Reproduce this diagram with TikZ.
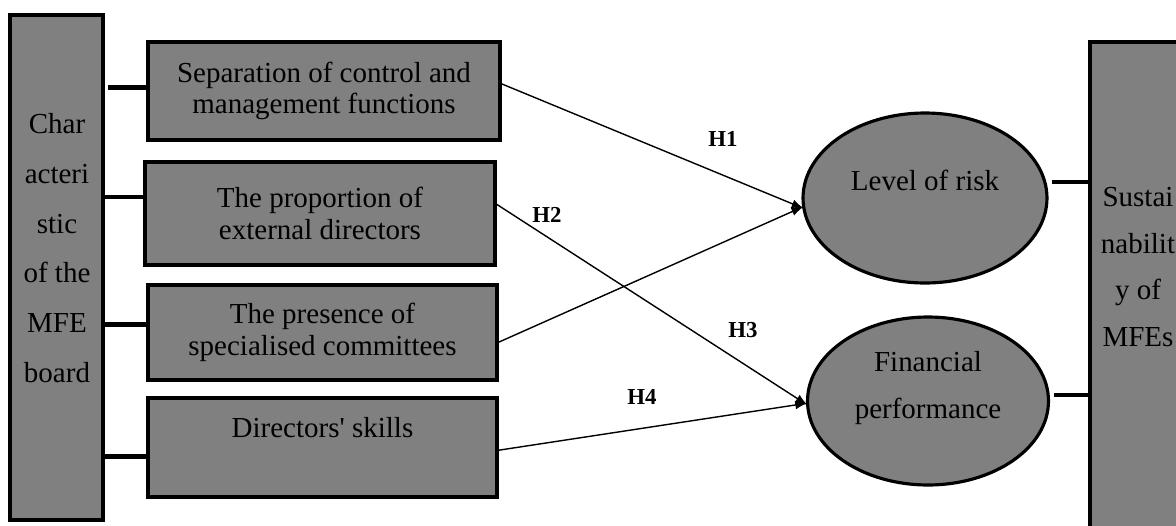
\documentclass[tikz,border=0pt]{standalone}
\usepackage{fontspec}
\setmainfont{Liberation Serif}
\usetikzlibrary{shapes.geometric,arrows.meta,calc}
\definecolor{boxgray}{HTML}{808080}
\begin{document}
\begin{tikzpicture}[x=0.02cm,y=-0.02cm,
  every node/.style={inner sep=0pt,outer sep=0pt},
  box/.style={draw=black,fill=boxgray,line width=2.6pt,rectangle,align=center,font=\fontsize{16.5}{18}\selectfont},
  bar/.style={draw=black,fill=boxgray,line width=2.2pt,rectangle},
  oval/.style={draw=black,fill=boxgray,line width=1.8pt,ellipse},
  ovaltext/.style={align=center,font=\fontsize{16.5}{26.6}\selectfont},
  bartext/.style={align=center,font=\fontsize{16.5}{28.3}\selectfont},
  rbartext/.style={align=center,font=\fontsize{16.5}{26.6}\selectfont},
  link/.style={line width=2.8pt},
  hyp/.style={line width=0.8pt,-{Latex[length=7pt,width=5pt]}},
  hlabel/.style={font=\fontsize{13}{14}\selectfont\bfseries}
]
\useasboundingbox (0,0) rectangle (1176,525);

% left bar
\node[bar,minimum width=1.86cm,minimum height=10.1cm] (lb) at (56.5,267.5) {};
\node[bartext] (lbt) at (57,248) {Char\\acteri\\stic\\of the\\MFE\\board};

% right bar
\node[bar,minimum width=2.2cm,minimum height=10.06cm] (rb) at (1145,293.5) {};
\node[rbartext] (rbt) at (1138,267) {Sustai\\nabilit\\y of\\MFEs};

% boxes
\node[box,minimum width=7.04cm,minimum height=1.96cm] (b1) at (324,91) {Separation of control and\\management functions};
\node[box,minimum width=7.0cm,minimum height=2.06cm] (b2) at (320,213.5) {The proportion of\\external directors};
\node[box,minimum width=6.98cm,minimum height=1.9cm] (b3) at (322.5,332.5) {The presence of\\specialised committees};
\node[box,minimum width=6.98cm,minimum height=1.98cm] (b4) at (322.5,447.5) {Directors\textquotesingle{} skills\\\strut};

% ellipses
\node[oval,minimum width=4.88cm,minimum height=3.4cm] (e1) at (925,198) {};
\node[ovaltext] (e1t) at (925,180) {Level of risk};
\node[oval,minimum width=4.82cm,minimum height=3.36cm] (e2) at (928,401) {};
\node[ovaltext] (e2t) at (928,388) {Financial\\performance};

% left links
\coordinate (l1) at ($(b1.north west)!0.46!(b1.south west)$);
\coordinate (l2) at ($(b2.north west)!0.34!(b2.south west)$);
\coordinate (l3) at ($(b3.north west)!0.42!(b3.south west)$);
\coordinate (l4) at ($(b4.north west)!0.59!(b4.south west)$);
\draw[link] ($(l1 -| lb.east)+(5,0)$) -- (l1);
\draw[link] (l2 -| lb.east) -- (l2);
\draw[link] (l3 -| lb.east) -- (l3);
\draw[link] (l4 -| lb.east) -- (l4);

% right links
\coordinate (r1) at ($(e1.east)+(5,-16)$);
\coordinate (r2) at ($(e2.east)+(6,-6)$);
\draw[link] (r1) -- (r1 -| rb.west);
\draw[link] (r2) -- (r2 -| rb.west);

% hypotheses
\draw[hyp] ($(b1.north east)!0.42!(b1.south east)$) -- (e1.185);
\draw[hyp] ($(b3.north east)!0.61!(b3.south east)$) -- (e1.184);
\draw[hyp] ($(b2.north east)!0.40!(b2.south east)$) -- (e2.182);
\draw[hyp] ($(b4.north east)!0.53!(b4.south east)$) -- (e2.181);

\node[hlabel] (h1) at (723,139) {H1};
\node[hlabel] (h2) at (547,215) {H2};
\node[hlabel] (h3) at (743,330) {H3};
\node[hlabel] (h4) at (642,397) {H4};
\end{tikzpicture}
\end{document}
